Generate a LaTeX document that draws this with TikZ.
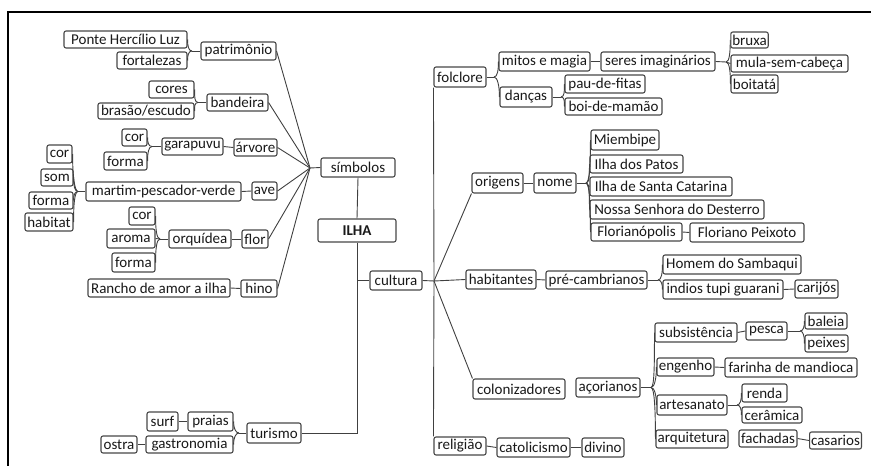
\documentclass[tikz,border=0pt]{standalone}
\usepackage{fontspec}
\setmainfont{Carlito}
\usetikzlibrary{calc}
\tikzset{
  box/.style={draw=black!72, line width=1.1pt, rounded corners=2pt, fill=white,
    inner xsep=1.5pt, inner ysep=1pt, text=black!90,
    font=\fontsize{15}{16}\selectfont},
  link/.style={draw=black!75, line width=0.9pt},
  frame/.style={draw=black, line width=1.5pt}
}
\newcommand\nbox[6]{\node[box, minimum width={(#4-#2)*1pt}, minimum height={(#5-#3)*1pt}] (#1) at ({(#2+#4)/2},{(#3+#5)/2}) {#6};}
\newcommand\brR[2]{\draw[link] (#1) .. controls ($(#1)+(3.5,0)$) and ($(#1 -| #2.west)!0.45!(#2.west)$) .. (#2.west);}
\newcommand\brL[2]{\draw[link] (#1) .. controls ($(#1)+(-3.5,0)$) and ($(#1 -| #2.east)!0.45!(#2.east)$) .. (#2.east);}
\begin{document}
\begin{tikzpicture}[x=1pt,y=-1pt]
\useasboundingbox (0,0) rectangle (871,466);
% frame
\coordinate (fTL) at (8,12);
\coordinate (fTR) at (871,12);
\coordinate (fBL) at (8,466);
\draw[frame] (fTR) -- (fTL) -- (fBL);

% ---- left side ----
\nbox{pont}{64}{31}{187}{48}{Ponte Hercílio Luz}
\nbox{fort}{117}{52}{187}{69}{fortalezas}
\nbox{patr}{201}{42}{276}{60}{patrimônio}
\nbox{cores}{149}{81}{194}{98}{cores}
\nbox{bras}{98}{103}{194}{119}{brasão/escudo}
\nbox{band}{207}{94}{268}{111}{bandeira}
\nbox{corA}{122}{129}{147}{146}{cor}
\nbox{formA}{104}{152}{147}{170}{forma}
\nbox{garap}{162}{138}{223}{155}{garapuvu}
\nbox{arv}{234}{139}{277}{156}{árvore}
\nbox{corB}{47}{145}{72}{163}{cor}
\nbox{som}{41}{169}{73}{186}{som}
\nbox{formB}{29}{192}{73}{209}{forma}
\nbox{habitat}{25}{213}{73}{231}{habitat}
\nbox{mart}{86}{182}{241}{201}{martim-pescador-verde}
\nbox{ave}{252}{182}{277}{200}{ave}
\nbox{corC}{129}{207}{155}{225}{cor}
\nbox{aroma}{107}{229}{155}{248}{aroma}
\nbox{formC}{112}{253}{155}{272}{forma}
\nbox{orq}{169}{230}{231}{248}{orquídea}
\nbox{flor}{242}{230}{268}{248}{flor}
\nbox{ranch}{88}{279}{230}{297}{Rancho de amor a ilha}
\nbox{hino}{241}{280}{277}{297}{hino}
\nbox{simb}{321}{158}{395}{177}{símbolos}
\nbox{ilha}{318}{219}{396}{242}{\bfseries ILHA}
\nbox{cult}{370}{271}{422}{290}{cultura}
\nbox{tur}{247}{423}{301}{443}{turismo}
\nbox{praias}{188}{412}{233}{431}{praias}
\nbox{gastro}{146}{436}{233}{453}{gastronomia}
\nbox{surf}{147}{412}{178}{431}{surf}
\nbox{ostra}{101}{436}{137}{453}{ostra}

% ---- right side ----
\nbox{folc}{434}{67}{486}{87}{folclore}
\nbox{mitos}{499}{52}{590}{71}{mitos e magia}
\nbox{dancas}{500}{87}{552}{107}{danças}
\nbox{pau}{565}{75}{645}{93}{pau-de-fitas}
\nbox{boi}{565}{98}{662}{115}{boi-de-mamão}
\nbox{seres}{601}{52}{715}{71}{seres imaginários}
\nbox{bruxa}{731}{32}{768}{48}{bruxa}
\nbox{mula}{731}{55}{848}{72}{mula-sem-cabeça}
\nbox{boit}{731}{75}{778}{93}{boitatá}
\nbox{orig}{472}{173}{523}{193}{origens}
\nbox{nome}{534}{173}{576}{193}{nome}
\nbox{miem}{591}{130}{659}{150}{Miembipe}
\nbox{patos}{590}{155}{683}{173}{Ilha dos Patos}
\nbox{santa}{590}{177}{732}{196}{Ilha de Santa Catarina}
\nbox{dest}{590}{200}{764}{219}{Nossa Senhora do Desterro}
\nbox{flori}{591}{223}{682}{241}{Florianópolis}
\nbox{peix}{690}{223}{804}{242}{Floriano Peixoto}
\nbox{hab}{466}{270}{536}{289}{habitantes}
\nbox{pre}{546}{271}{647}{289}{pré-cambrianos}
\nbox{homem}{663}{255}{801}{274}{Homem do Sambaqui}
\nbox{indios}{663}{280}{783}{299}{indios tupi guarani}
\nbox{carij}{795}{280}{838}{298}{carijós}
\nbox{colon}{473}{379}{565}{399}{colonizadores}
\nbox{acor}{576}{378}{640}{397}{açorianos}
\nbox{subs}{655}{323}{737}{342}{subsistência}
\nbox{pesca}{746}{322}{787}{340}{pesca}
\nbox{baleia}{805}{313}{847}{329}{baleia}
\nbox{peixes}{805}{335}{848}{352}{peixes}
\nbox{eng}{657}{358}{714}{376}{engenho}
\nbox{farin}{725}{358}{857}{377}{farinha de mandioca}
\nbox{artes}{657}{395}{727}{415}{artesanato}
\nbox{renda}{742}{384}{787}{402}{renda}
\nbox{ceram}{742}{407}{802}{423}{cerâmica}
\nbox{arq}{656}{430}{728}{448}{arquitetura}
\nbox{fach}{739}{430}{797}{447}{fachadas}
\nbox{casar}{810}{432}{861}{449}{casarios}
\nbox{relig}{434}{437}{486}{455}{religião}
\nbox{catol}{497}{438}{570}{457}{catolicismo}
\nbox{divino}{582}{438}{624}{457}{divino}

% ---- junctions ----
\coordinate (jPatr) at (192,51);
\coordinate (jBand) at (198,102.5);
\coordinate (jGar) at (152,146.5);
\coordinate (jMart) at (78,191.5);
\coordinate (jOrq) at (160,239);
\coordinate (jSimb) at (310,168);
\coordinate (jTur) at (239,433);
\coordinate (jCult) at (434,281);
\coordinate (jFolc) at (494,77);
\coordinate (jDanc) at (561,97);
\coordinate (jSeres) at (726,62);
\coordinate (jNome) at (586,183);
\coordinate (jPre) at (658,280);
\coordinate (jAcor) at (651,387.5);
\coordinate (jPesca) at (800,331);
\coordinate (jArt) at (737,405);

% ---- connectors: left ----
\draw[link] (patr.west) -- (jPatr);
\brL{jPatr}{pont} \brL{jPatr}{fort}
\draw[link] (band.west) -- (jBand);
\brL{jBand}{cores} \brL{jBand}{bras}
\draw[link] (garap.west) -- (jGar);
\brL{jGar}{corA} \brL{jGar}{formA}
\draw[link] (arv.west) -- (garap.east);
\draw[link] (mart.west) -- (jMart);
\brL{jMart}{corB} \brL{jMart}{som} \brL{jMart}{formB} \brL{jMart}{habitat}
\draw[link] (ave.west) -- (mart.east);
\draw[link] (orq.west) -- (jOrq);
\brL{jOrq}{corC} \brL{jOrq}{formC}
\draw[link] (jOrq) -- (aroma.east);
\draw[link] (flor.west) -- (orq.east);
\draw[link] (hino.west) -- (ranch.east);
\draw[link] (simb.west) -- (jSimb);
\foreach \c in {patr,band,arv,ave,flor,hino} \draw[link] (jSimb) -- (\c.east);
\draw[link] (simb.south) -- (ilha.north);
\draw[link] (ilha.south) |- (tur.east);
\draw[link] (ilha.south |- cult.west) -- (cult.west);
\draw[link] (tur.west) -- (jTur);
\brL{jTur}{praias} \brL{jTur}{gastro}
\draw[link] (praias.west) -- (surf.east);
\draw[link] (gastro.west) -- (ostra.east);

% ---- connectors: right ----
\draw[link] (cult.east) -- (jCult);
\draw[link] (jCult) -- (folc.south west);
\draw[link] (jCult) -- (relig.north west);
\draw[link] (jCult) -- (orig.south west);
\draw[link] (jCult) -- (hab.west);
\draw[link] (jCult) -- (colon.north west);
\draw[link] (folc.east) -- (jFolc);
\brR{jFolc}{mitos} \brR{jFolc}{dancas}
\draw[link] (mitos.east) -- (seres.west);
\draw[link] (dancas.east) -- (jDanc);
\brR{jDanc}{pau} \brR{jDanc}{boi}
\draw[link] (seres.east) -- (jSeres);
\brR{jSeres}{bruxa} \brR{jSeres}{boit}
\draw[link] (jSeres) -- (mula.west);
\draw[link] (orig.east) -- (nome.west);
\draw[link] (nome.east) -- (jNome);
\brR{jNome}{miem} \brR{jNome}{patos} \brR{jNome}{dest} \brR{jNome}{flori}
\draw[link] (jNome) -- (santa.west);
\draw[link] (flori.east) -- (peix.west);
\draw[link] (hab.east) -- (pre.west);
\draw[link] (pre.east) -- (jPre);
\brR{jPre}{homem} \brR{jPre}{indios}
\draw[link] (indios.east) -- (carij.west);
\draw[link] (acor.east) -- (jAcor);
\brR{jAcor}{subs} \brR{jAcor}{eng} \brR{jAcor}{artes} \brR{jAcor}{arq}
\draw[link] (subs.east) -- (pesca.west);
\draw[link] (pesca.east) -- (jPesca);
\brR{jPesca}{baleia} \brR{jPesca}{peixes}
\draw[link] (eng.east) -- (farin.west);
\draw[link] (artes.east) -- (jArt);
\brR{jArt}{renda} \brR{jArt}{ceram}
\draw[link] (fach.east) -- (casar.west);
\draw[link] (relig.east) -- (catol.west);
\draw[link] (catol.east) -- (divino.west);
\end{tikzpicture}
\end{document}
